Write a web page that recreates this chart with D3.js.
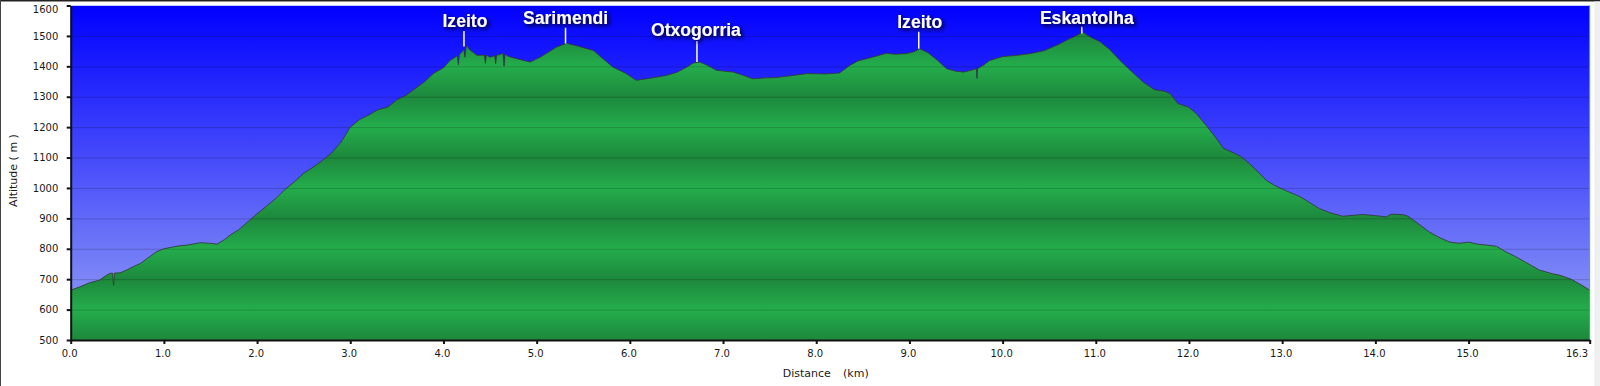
<!DOCTYPE html>
<html><head><meta charset="utf-8">
<script src="https://cdn.jsdelivr.net/npm/d3@7"></script>
<style>
html,body{margin:0;padding:0;background:#fff;}
svg{display:block;}
</style></head><body>
<svg id="chart" width="1600" height="386"></svg>
<script>
// ---------- DATA ----------
const distanceKm = [0.00,0.10,0.20,0.31,0.38,0.42,0.45,0.46,0.47,0.53,0.60,0.67,0.75,0.82,0.92,1.00,1.10,1.17,1.25,1.39,1.50,1.57,1.65,1.71,1.80,1.92,2.00,2.10,2.20,2.30,2.40,2.50,2.60,2.70,2.80,2.90,3.00,3.10,3.20,3.30,3.40,3.50,3.60,3.68,3.80,3.89,4.00,4.07,4.15,4.16,4.17,4.22,4.23,4.24,4.25,4.28,4.36,4.44,4.45,4.46,4.50,4.55,4.56,4.57,4.64,4.65,4.66,4.70,4.80,4.93,5.05,5.21,5.32,5.45,5.54,5.61,5.70,5.82,5.95,6.07,6.20,6.39,6.50,6.61,6.68,6.75,6.82,6.93,7.11,7.20,7.32,7.45,7.57,7.75,7.90,8.10,8.25,8.36,8.45,8.54,8.65,8.75,8.85,8.97,9.05,9.11,9.20,9.30,9.40,9.50,9.58,9.65,9.72,9.725,9.73,9.80,9.86,10.00,10.15,10.30,10.45,10.51,10.60,10.70,10.80,10.86,10.95,11.04,11.15,11.26,11.37,11.51,11.63,11.74,11.80,11.88,12.00,12.08,12.20,12.30,12.37,12.46,12.55,12.65,12.75,12.83,12.92,13.01,13.20,13.40,13.52,13.65,13.87,14.00,14.12,14.17,14.30,14.35,14.45,14.58,14.70,14.80,14.90,15.00,15.10,15.20,15.30,15.40,15.50,15.60,15.76,15.90,15.98,16.10,16.20,16.30];
const altitudeM = [664,675,688,697,712,719,720,680,720,721,730,741,752,768,790,800,806,810,812,820,818,815,830,845,862,894,915,940,965,995,1020,1048,1068,1090,1115,1150,1200,1225,1240,1258,1265,1290,1305,1323,1350,1376,1395,1419,1435,1405,1438,1455,1430,1458,1469,1455,1436,1437,1410,1437,1430,1435,1408,1436,1442,1400,1440,1432,1424,1414,1432,1463,1476,1466,1458,1452,1428,1397,1378,1354,1360,1370,1380,1397,1411,1414,1405,1387,1381,1372,1359,1362,1363,1370,1376,1375,1378,1403,1418,1425,1434,1443,1440,1442,1448,1458,1445,1420,1392,1384,1381,1386,1392,1360,1392,1405,1419,1432,1436,1442,1452,1460,1472,1488,1502,1512,1495,1482,1455,1419,1387,1348,1323,1318,1310,1278,1265,1244,1200,1160,1130,1118,1105,1080,1050,1025,1008,995,970,932,918,907,913,909,905,914,912,907,885,855,835,822,818,822,815,812,808,790,775,758,730,718,713,700,683,664];
const altitudeTicks = [500,600,700,800,900,1000,1100,1200,1300,1400,1500,1600];
const distanceTicks = [0,1,2,3,4,5,6,7,8,9,10,11,12,13,14,15,16.3];
const peakNames = ["Izeito","Sarimendi","Otxogorria","Izeito","Eskantolha"];
const peakKm = [4.22,5.31,6.72,9.10,10.85];
const peakAlt = [1465,1475,1414,1458,1508];

// ---------- LAYOUT ----------
const plot = {left:70.7, right:1589.7, top:5.5, bottom:340};
// label text: [center x offset from marker, baseline y, marker top y]
const labelLayout = [[1,26.7,31],[0,24,27.7],[-1,35.7,41],[1,28.3,31.7],[5,24,26.7]];

const svg = d3.select("#chart");
const x = d3.scaleLinear().domain([0,16.3]).range([plot.left, plot.right]);
const y = d3.scaleLinear().domain([500,1600]).range([plot.bottom, plot.top]);
const data = distanceKm.map((d,i)=>({km:d, alt:altitudeM[i]}));

const defs = svg.append("defs");
const sky = defs.append("linearGradient").attr("id","sky").attr("gradientUnits","userSpaceOnUse")
  .attr("x1",0).attr("x2",0).attr("y1",plot.top).attr("y2",plot.bottom);
sky.append("stop").attr("offset","0%").attr("stop-color","#0000ff");
sky.append("stop").attr("offset","100%").attr("stop-color","#98a4f4");
const ground = defs.append("linearGradient").attr("id","ground").attr("gradientUnits","userSpaceOnUse")
  .attr("spreadMethod","reflect").attr("x1",0).attr("x2",0).attr("y1",y(600)).attr("y2",y(500));
ground.append("stop").attr("offset","0%").attr("stop-color","#24ad4c");
ground.append("stop").attr("offset","100%").attr("stop-color","#1d883c");
const f = defs.append("filter").attr("id","shadow").attr("x","-20%").attr("y","-50%").attr("width","150%").attr("height","200%");
f.append("feDropShadow").attr("dx",2).attr("dy",2).attr("stdDeviation",2).attr("flood-color","#000").attr("flood-opacity",1);

// frame
svg.append("rect").attr("x",0).attr("y",0).attr("width",1600).attr("height",1.5).attr("fill","#222");
svg.append("rect").attr("x",0).attr("y",0).attr("width",1).attr("height",386).attr("fill","#444");
svg.append("rect").attr("x",1594.3).attr("y",1.5).attr("width",6).attr("height",385).attr("fill","#efefef");

// sky
svg.append("rect").attr("x",plot.left).attr("y",plot.top).attr("width",plot.right-plot.left)
  .attr("height",plot.bottom-plot.top).attr("fill","url(#sky)");
svg.append("line").attr("x1",plot.left).attr("x2",plot.right).attr("y1",plot.top).attr("y2",plot.top)
  .attr("stroke","#c4ccff").attr("stroke-width",1);

// ground
const area = d3.area().x(d=>x(d.km)).y0(y(500)).y1(d=>y(d.alt));
svg.append("path").datum(data).attr("d",area).attr("fill","url(#ground)");

// grid
svg.append("g").selectAll("line").data(altitudeTicks.filter(t=>t>500 && t<1600)).join("line")
  .attr("x1",plot.left).attr("x2",plot.right).attr("y1",d=>y(d)+0.5).attr("y2",d=>y(d)+0.5)
  .attr("stroke","#000").attr("stroke-opacity",0.18).attr("stroke-width",1);

// profile line
const line = d3.line().x(d=>x(d.km)).y(d=>y(d.alt));
svg.append("path").datum(data).attr("d",line).attr("fill","none").attr("stroke","#333").attr("stroke-width",1).attr("stroke-opacity",0.8);

// right edge line
svg.append("line").attr("x1",plot.right).attr("x2",plot.right).attr("y1",plot.top).attr("y2",plot.bottom)
  .attr("stroke","#3cba52").attr("stroke-width",1);

// axes
const yAxis = svg.append("g").attr("transform",`translate(${plot.left},0)`)
  .call(d3.axisLeft(y).tickValues(altitudeTicks).tickSize(4).tickSizeOuter(0).tickPadding(8.4).tickFormat(d3.format("d")));
const xAxis = svg.append("g").attr("transform",`translate(0,${plot.bottom})`)
  .call(d3.axisBottom(x).tickValues(distanceTicks).tickSize(4).tickSizeOuter(0).tickPadding(5.4).tickFormat(d3.format(".1f")));
[yAxis,xAxis].forEach(g=>{
  g.select(".domain").attr("stroke","#111").attr("stroke-width",2);
  g.selectAll(".tick line").attr("stroke","#111").attr("stroke-width",2);
  g.selectAll(".tick text").attr("fill","#1a1a1a").style("font-family","'DejaVu Sans',Verdana,sans-serif").style("font-size","10px");
});
yAxis.selectAll(".tick text").filter(d=>d===1600).attr("dy","0.7em");
xAxis.selectAll(".tick text").attr("dx",-1.5);
xAxis.selectAll(".tick text").filter(d=>d===16.3).attr("text-anchor","end").attr("dx",-2);

// axis titles
const title = svg.append("text").attr("y",376.7).attr("fill","#1a1a1a")
  .style("font-family","'DejaVu Sans',Verdana,sans-serif").style("font-size","11px");
title.append("tspan").attr("x",782.7).text("Distance");
title.append("tspan").attr("x",843).text("(km)");
svg.append("text").attr("transform","translate(17,170.5) rotate(-90)").attr("text-anchor","middle")
  .attr("fill","#1a1a1a").style("font-family","'DejaVu Sans',Verdana,sans-serif").style("font-size","11px")
  .text("Altitude ( m )");

// peak labels
const labels = svg.append("g");
peakNames.forEach((name,i)=>{
  const px = x(peakKm[i]), py = y(peakAlt[i]);
  const [dx, base, top] = labelLayout[i];
  labels.append("line").attr("x1",px).attr("x2",px).attr("y1",top).attr("y2",py)
    .attr("stroke","#fff").attr("stroke-width",1.5);
  labels.append("text").attr("x",px+dx).attr("y",base).attr("text-anchor","middle")
    .attr("fill","#fff").attr("filter","url(#shadow)")
    .style("font-family","'Liberation Sans',Arial,sans-serif").style("font-weight","bold").style("font-size","17.6px")
    .text(name);
});
</script>
</body></html>
